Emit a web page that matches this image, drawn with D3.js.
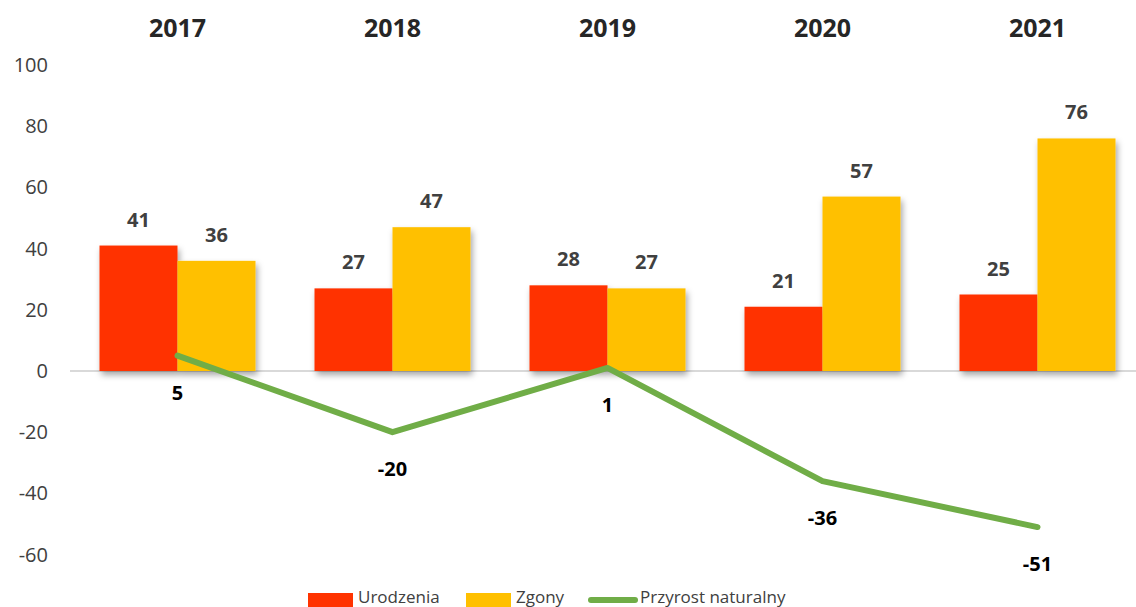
<!DOCTYPE html>
<html><head><meta charset="utf-8">
<script src="https://cdn.jsdelivr.net/npm/d3@7"></script>
<style>body{margin:0;background:#fff;overflow:hidden}svg{display:block}</style>
</head><body>
<script>
const years = ["2017","2018","2019","2020","2021"];
const births = [41, 27, 28, 21, 25];
const deaths = [36, 47, 27, 57, 76];
const growth = [5, -20, 1, -36, -51];
const yTicks = [-60, -40, -20, 0, 20, 40, 60, 80, 100];
const seriesNames = ["Urodzenia", "Zgony", "Przyrost naturalny"];
const colors = ["#FF3300", "#FFC000", "#70AD47"];

const W = 1136, H = 607;
const svg = d3.select("body").append("svg").attr("width", W).attr("height", H)
  .style("font-family", "'Open Sans', sans-serif");

const defs = svg.append("defs");
const f = defs.append("filter").attr("id","sh").attr("x","-10%").attr("y","-10%").attr("width","130%").attr("height","130%");
f.append("feDropShadow").attr("dx",2).attr("dy",4).attr("stdDeviation",3).attr("flood-color","#000").attr("flood-opacity",0.35);

const x = d3.scaleBand().domain(years).range([70, 1145]);
const y = d3.scaleLinear().domain([-60, 100]).range([554.6, 65]);
const bw = 78;

// y tick labels
svg.append("g").selectAll("text").data(yTicks).join("text")
  .attr("x", 48).attr("y", d => y(d)).attr("dy", "0.35em")
  .attr("text-anchor", "end").attr("font-size", 20).attr("fill", "#404040")
  .text(d => d);

// zero line
svg.append("line").attr("x1", 70).attr("x2", 1145).attr("y1", y(0)).attr("y2", y(0))
  .attr("stroke", "#d9d9d9").attr("stroke-width", 2);

// year labels top
svg.append("g").selectAll("text").data(years).join("text")
  .attr("x", d => x(d) + x.bandwidth()/2).attr("y", 28).attr("dy", "0.35em")
  .attr("text-anchor", "middle").attr("font-size", 25).attr("font-weight", "bold").attr("fill", "#262626")
  .text(d => d);

const cx = d => x(d) + x.bandwidth()/2;

// bars
const bars = svg.append("g").attr("filter", "url(#sh)");
bars.selectAll("rect.b").data(years).join("rect")
  .attr("x", d => cx(d) - bw).attr("width", bw)
  .attr("y", (d,i) => y(births[i])).attr("height", (d,i) => y(0) - y(births[i]))
  .attr("fill", colors[0]);
bars.selectAll("rect.d").data(years).join("rect").attr("class","d")
  .attr("x", d => cx(d)).attr("width", bw)
  .attr("y", (d,i) => y(deaths[i])).attr("height", (d,i) => y(0) - y(deaths[i]))
  .attr("fill", colors[1]);

// bar labels
const lab = svg.append("g").attr("font-size", 20).attr("font-weight", "bold").attr("fill", "#404040").attr("text-anchor", "middle");
years.forEach((d,i) => {
  lab.append("text").attr("x", cx(d) - bw/2).attr("y", y(births[i]) - 26).attr("dy","0.35em").text(births[i]);
  lab.append("text").attr("x", cx(d) + bw/2).attr("y", y(deaths[i]) - 26).attr("dy","0.35em").text(deaths[i]);
});

// line
const line = d3.line().x((d,i) => cx(years[i])).y(d => y(d));
svg.append("path").datum(growth).attr("d", line).attr("fill", "none")
  .attr("stroke", colors[2]).attr("stroke-width", 6).attr("stroke-linejoin", "round").attr("stroke-linecap", "round");

// line labels
svg.append("g").attr("font-size", 20).attr("font-weight", "bold").attr("fill", "#000").attr("text-anchor", "middle")
  .selectAll("text").data(growth).join("text")
  .attr("x", (d,i) => cx(years[i])).attr("y", d => y(d) + 37).attr("dy", "0.35em").text(d => d);

// legend
const lg = svg.append("g").attr("font-size", 17).attr("fill", "#404040");
const items = [
  {name: seriesNames[0], x: 308, type: "rect", c: colors[0]},
  {name: seriesNames[1], x: 466, type: "rect", c: colors[1]},
  {name: seriesNames[2], x: 588, type: "line", c: colors[2]}
];
items.forEach(it => {
  if (it.type === "rect") {
    lg.append("rect").attr("x", it.x).attr("y", 593).attr("width", 45).attr("height", 14).attr("fill", it.c);
    lg.append("text").attr("x", it.x + 50).attr("y", 603).text(it.name);
  } else {
    lg.append("line").attr("x1", it.x + 3).attr("x2", it.x + 47).attr("y1", 600).attr("y2", 600)
      .attr("stroke", it.c).attr("stroke-width", 6).attr("stroke-linecap", "round");
    lg.append("text").attr("x", it.x + 52).attr("y", 603).text(it.name);
  }
});
</script>
</body></html>
